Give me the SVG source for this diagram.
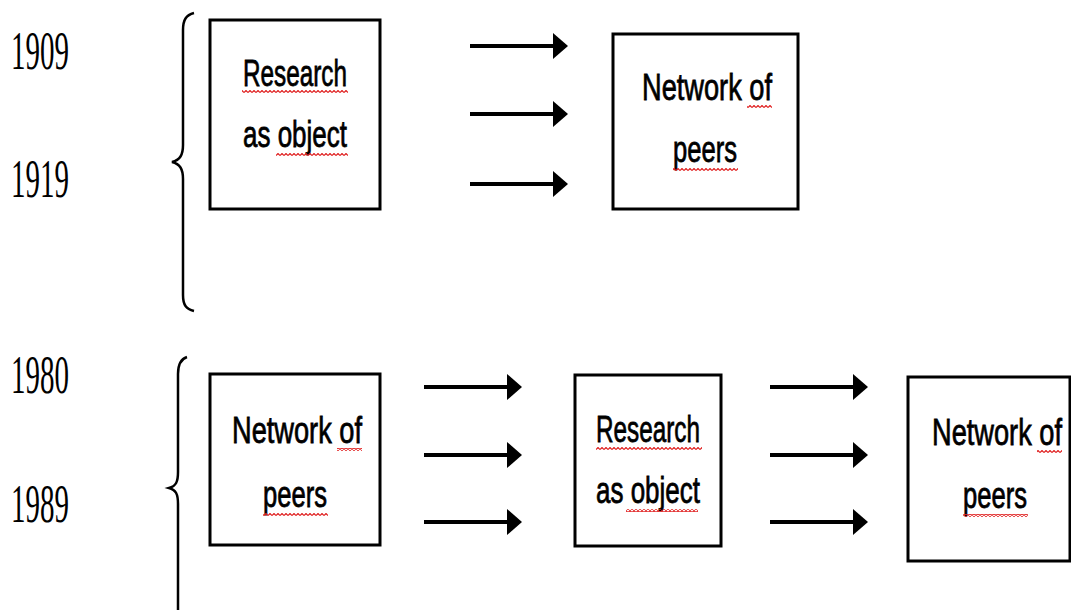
<svg xmlns="http://www.w3.org/2000/svg" width="1071" height="610" viewBox="0 0 1071 610">
<style>
.box{fill:#fff;stroke:#000;stroke-width:3}
.lbl{font-family:"Liberation Sans",Arial,sans-serif;font-size:24px;fill:#000;stroke:#000;stroke-width:0.5;text-anchor:middle}
.year{font-family:"Liberation Serif","Times New Roman",serif;font-size:29px;fill:#000}
.brace{fill:none;stroke:#000;stroke-width:2.5}
.arrow{stroke:#000;stroke-width:4;marker-end:url(#head)}
.wave{fill:url(#wavy)}
</style>
<defs>
<marker id="head" markerUnits="userSpaceOnUse" viewBox="0 0 15 26" refX="1" refY="13" markerWidth="15" markerHeight="26" orient="auto">
<path d="M0 0 L15 13 L0 26 Z" fill="#000"/>
</marker>
<pattern id="wavy" patternUnits="userSpaceOnUse" width="4" height="3">
<path d="M0 2.5 L2 0.5 L4 2.5" fill="none" stroke="#e02020" stroke-width="1.2"/>
</pattern>
</defs>
<g id="years">
<text class="year" transform="translate(11,69) scale(1,1.88)">1909</text>
<text class="year" transform="translate(11,197) scale(1,1.88)">1919</text>
<text class="year" transform="translate(11,393) scale(1,1.88)">1980</text>
<text class="year" transform="translate(11,522) scale(1,1.88)">1989</text>
</g>
<g id="braces">
<path class="brace" d="M194 13 C186 15 183 20 183 30 L183 145 C183 155 180 160 172 162 C180 164 183 169 183 179 L183 295 C183 305 186 309 194 311"/>
<path class="brace" d="M187 357 C181 359 178 364 178 374 L178 472 C178 482 176 486 169 488 C176 490 178 494 178 504 L178 620"/>
</g>
<g id="node-research-1">
<rect class="box" x="210" y="20" width="170" height="189"/>
<text class="lbl" transform="translate(295,86) scale(1,1.55)" textLength="104" lengthAdjust="spacingAndGlyphs">Research</text>
<text class="lbl" transform="translate(295,147) scale(1,1.55)" textLength="104" lengthAdjust="spacingAndGlyphs">as object</text>
<rect class="wave" x="242" y="90" width="106" height="3"/>
<rect class="wave" x="276" y="153" width="72" height="3"/>
</g>
<g id="node-network-1">
<rect class="box" x="613" y="34" width="185" height="175"/>
<text class="lbl" transform="translate(707,100) scale(1,1.55)" textLength="130" lengthAdjust="spacingAndGlyphs">Network of</text>
<text class="lbl" transform="translate(705,162) scale(1,1.55)" textLength="64" lengthAdjust="spacingAndGlyphs">peers</text>
<rect class="wave" x="747" y="105" width="25" height="3"/>
<rect class="wave" x="673" y="168" width="65" height="3"/>
</g>
<g id="node-network-2">
<rect class="box" x="210" y="374" width="170" height="171"/>
<text class="lbl" transform="translate(297,443) scale(1,1.55)" textLength="130" lengthAdjust="spacingAndGlyphs">Network of</text>
<text class="lbl" transform="translate(295,507) scale(1,1.55)" textLength="64" lengthAdjust="spacingAndGlyphs">peers</text>
<rect class="wave" x="337" y="448" width="25" height="3"/>
<rect class="wave" x="263" y="513" width="65" height="3"/>
</g>
<g id="node-research-2">
<rect class="box" x="575" y="375" width="146" height="171"/>
<text class="lbl" transform="translate(648,442) scale(1,1.55)" textLength="104" lengthAdjust="spacingAndGlyphs">Research</text>
<text class="lbl" transform="translate(648,503) scale(1,1.55)" textLength="104" lengthAdjust="spacingAndGlyphs">as object</text>
<rect class="wave" x="596" y="447" width="106" height="3"/>
<rect class="wave" x="626" y="509" width="72" height="3"/>
</g>
<g id="node-network-3">
<rect class="box" x="908" y="377" width="162" height="184"/>
<text class="lbl" transform="translate(997,445) scale(1,1.55)" textLength="130" lengthAdjust="spacingAndGlyphs">Network of</text>
<text class="lbl" transform="translate(995,508) scale(1,1.55)" textLength="64" lengthAdjust="spacingAndGlyphs">peers</text>
<rect class="wave" x="1037" y="450" width="25" height="3"/>
<rect class="wave" x="963" y="514" width="65" height="3"/>
</g>
<g id="connectors">
<line class="arrow" x1="470" y1="46" x2="554" y2="46"/>
<line class="arrow" x1="470" y1="114" x2="554" y2="114"/>
<line class="arrow" x1="470" y1="184" x2="554" y2="184"/>
<line class="arrow" x1="424" y1="387" x2="508" y2="387"/>
<line class="arrow" x1="424" y1="455" x2="508" y2="455"/>
<line class="arrow" x1="424" y1="522" x2="508" y2="522"/>
<line class="arrow" x1="770" y1="387" x2="854" y2="387"/>
<line class="arrow" x1="770" y1="455" x2="854" y2="455"/>
<line class="arrow" x1="770" y1="522" x2="854" y2="522"/>
</g>
</svg>
